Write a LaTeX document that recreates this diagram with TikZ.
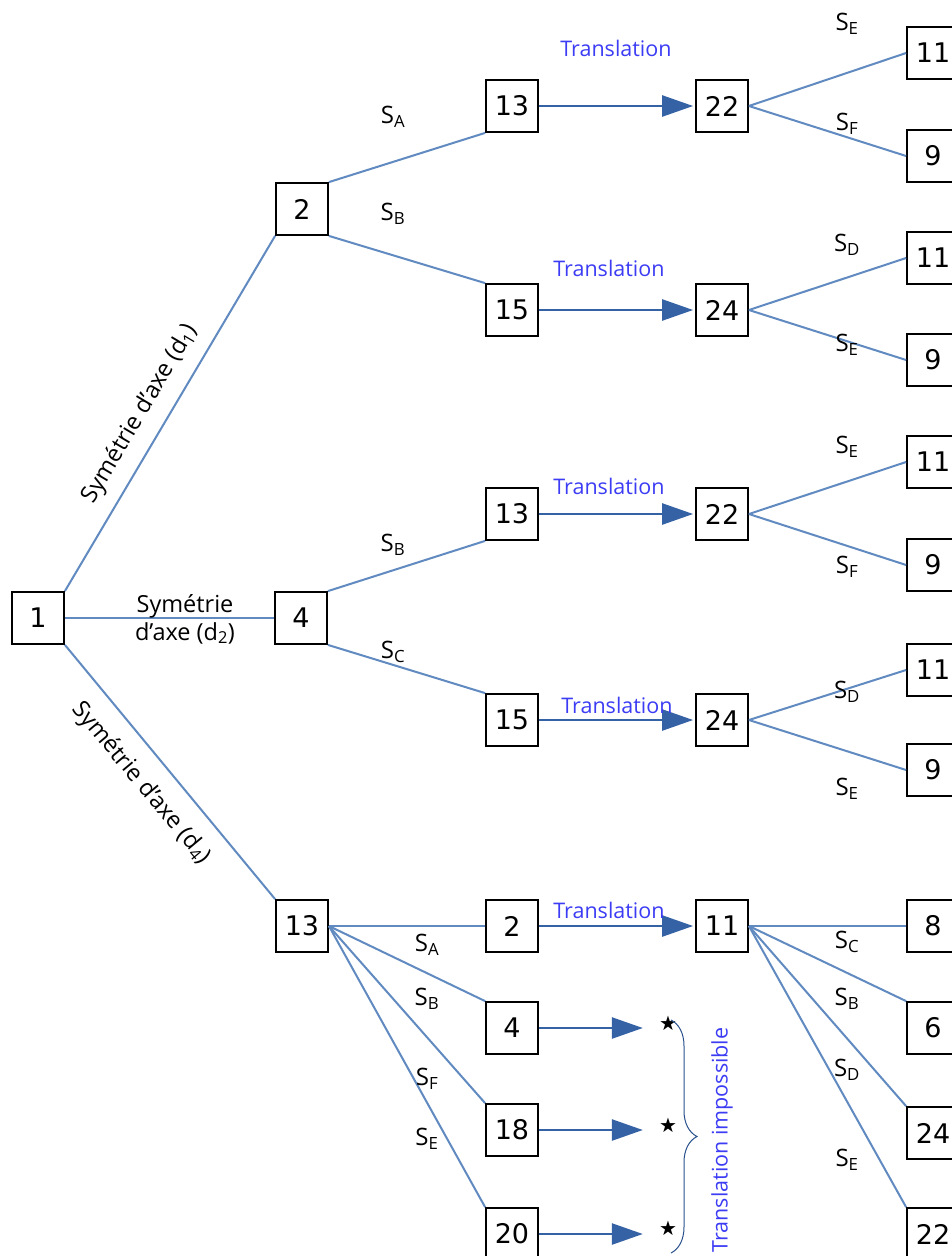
\documentclass[tikz,border=0pt]{standalone}
\usepackage{fontspec}
\setmainfont{Open Sans}
\newfontfamily\numfont{DejaVu Sans}
\newfontfamily\symfont{DejaVu Sans}
\usetikzlibrary{arrows.meta,decorations.pathreplacing,calc}
\definecolor{lineblue}{RGB}{96,138,192}
\definecolor{arrowblue}{RGB}{52,98,165}
\definecolor{transblue}{RGB}{60,60,245}
\definecolor{braceblue}{RGB}{40,80,140}
\tikzset{
  box/.style={draw=black, line width=1.8pt, minimum width=52pt, minimum height=52pt, inner sep=0pt, fill=white, font=\numfont\fontsize{27}{30}\selectfont},
  conn/.style={draw=lineblue, line width=2pt},
  tarrow/.style={draw=arrowblue, line width=2.5pt, -{Triangle[length=31pt,width=21pt]}},
  slab/.style={inner sep=0pt, font=\fontsize{24}{28}\selectfont},
  trans/.style={inner sep=0pt, text=transblue, font=\fontsize{21.5}{24}\selectfont},
  diag/.style={inner sep=0pt, font=\fontsize{23.5}{26}\selectfont},
  starnode/.style={inner sep=0pt, font=\symfont\fontsize{20}{22}\selectfont},
}
\begin{document}
\begin{tikzpicture}[x=1pt,y=-1pt]
\clip (0,0) rectangle (952,1256);
\fill[white] (0,0) rectangle (952,1256);
% level 0/1
\node[box] (n1) at (38,618) {1};
\node[box] (n2) at (302,209) {2};
\node[box] (n4) at (301,618) {4};
\node[box] (n13) at (302,926) {13};
% branch 2
\node[box] (a13) at (512,106) {13};
\node[box] (a22) at (722,106) {22};
\node[box] (a11) at (933,53) {11};
\node[box] (a9) at (933,156) {9};
\node[box] (b15) at (512,310) {15};
\node[box] (b24) at (722,310) {24};
\node[box] (b11) at (933,258) {11};
\node[box] (b9) at (933,360) {9};
% branch 4
\node[box] (c13) at (512,514) {13};
\node[box] (c22) at (722,514) {22};
\node[box] (c11) at (933,462) {11};
\node[box] (c9) at (933,565) {9};
\node[box] (d15) at (512,720) {15};
\node[box] (d24) at (722,720) {24};
\node[box] (d11) at (933,670) {11};
\node[box] (d9) at (933,770) {9};
% branch 13
\node[box] (e2) at (512,926) {2};
\node[box] (e4) at (512,1028) {4};
\node[box] (e18) at (512,1130) {18};
\node[box] (e20) at (512,1234) {20};
\node[box] (f11) at (722,926) {11};
\node[box] (f8) at (933,926) {8};
\node[box] (f6) at (933,1028) {6};
\node[box] (f24) at (933,1133) {24};
\node[box] (f22) at (933,1234) {22};
% stars
\node[starnode] (st1) at (668,1023) {★};
\node[starnode] (st2) at (668,1125) {★};
\node[starnode] (st3) at (668,1228) {★};
% connectors
\draw[conn] (n1.north east) -- (n2.south west);
\draw[conn] (n1.east) -- (n4.west);
\draw[conn] (n1.south east) -- (n13.north west);
\draw[conn] (n2.north east) -- (a13.south west);
\draw[conn] (n2.south east) -- (b15.north west);
\draw[conn] (n4.north east) -- (c13.south west);
\draw[conn] (n4.south east) -- (d15.north west);
\draw[conn] (a22.east) -- (a11.west);
\draw[conn] (a22.east) -- (a9.west);
\draw[conn] (b24.east) -- (b11.west);
\draw[conn] (b24.east) -- (b9.west);
\draw[conn] (c22.east) -- (c11.west);
\draw[conn] (c22.east) -- (c9.west);
\draw[conn] (d24.east) -- (d11.west);
\draw[conn] (d24.east) -- (d9.west);
\draw[conn] (n13.east) -- (e2.west);
\draw[conn] (n13.east) -- (e4.north west);
\draw[conn] (n13.east) -- (e18.north west);
\draw[conn] (n13.east) -- (e20.north west);
\draw[conn] (f11.east) -- (f8.west);
\draw[conn] (f11.east) -- (f6.north west);
\draw[conn] (f11.east) -- (f24.north west);
\draw[conn] (f11.east) -- (f22.north west);
% translation arrows
\draw[tarrow, shorten >=2pt] (a13.east) -- (a22.west);
\draw[tarrow, shorten >=2pt] (b15.east) -- (b24.west);
\draw[tarrow, shorten >=2pt] (c13.east) -- (c22.west);
\draw[tarrow, shorten >=2pt] (d15.east) -- (d24.west);
\draw[tarrow, shorten >=2pt] (e2.east) -- (f11.west);
\draw[tarrow, shorten >=16pt] (e4.east) -- (e4.east -| st1.west);
\draw[tarrow, shorten >=16pt] (e18.east) -- (e18.east -| st2.west);
\draw[tarrow, shorten >=16pt] (e20.east) -- (e20.east -| st3.west);
% brace
\coordinate (bt) at (671,1020);
\coordinate (bb) at (671,1253);
\draw[braceblue, line width=1pt, decorate, decoration={brace, amplitude=26pt}] (bt) -- (bb);
\node[trans, rotate=90] (timp) at (722,1140) {Translation impossible};
% translation labels
\node[trans] (t1) at (616,48) {Translation};
\node[trans] (t2) at (609,268) {Translation};
\node[trans] (t3) at (609,486) {Translation};
\node[trans] (t4) at (617,705) {Translation};
\node[trans] (t5) at (609,910) {Translation};
% diagonal labels
\node[diag, rotate=59.3] (l1) at (140,414) {Symétrie d'axe (d\textsubscript{1})};
\node[diag, align=center] (l2) at (185,619) {Symétrie\\[2pt] d’axe (d\textsubscript{2})};
\node[diag, rotate=-50.1] (l4) at (141,783) {Symétrie d'axe (d\textsubscript{4})};
% S labels
\node[slab] (s1) at (393,117) {S\textsubscript{A}};
\node[slab] (s2) at (393,214) {S\textsubscript{B}};
\node[slab] (s3) at (393,545) {S\textsubscript{B}};
\node[slab] (s4) at (393,652) {S\textsubscript{C}};
\node[slab] (s5) at (847,24) {S\textsubscript{E}};
\node[slab] (s6) at (847,124) {S\textsubscript{F}};
\node[slab] (s7) at (847,245) {S\textsubscript{D}};
\node[slab] (s8) at (847,345) {S\textsubscript{E}};
\node[slab] (s9) at (847,447) {S\textsubscript{E}};
\node[slab] (s10) at (847,567) {S\textsubscript{F}};
\node[slab] (s11) at (847,692) {S\textsubscript{D}};
\node[slab] (s12) at (847,789) {S\textsubscript{E}};
\node[slab] (s13) at (427,945) {S\textsubscript{A}};
\node[slab] (s14) at (427,999) {S\textsubscript{B}};
\node[slab] (s15) at (427,1079) {S\textsubscript{F}};
\node[slab] (s16) at (427,1139) {S\textsubscript{E}};
\node[slab] (s17) at (847,942) {S\textsubscript{C}};
\node[slab] (s18) at (847,999) {S\textsubscript{B}};
\node[slab] (s19) at (847,1070) {S\textsubscript{D}};
\node[slab] (s20) at (847,1160) {S\textsubscript{E}};
\end{tikzpicture}
\end{document}
